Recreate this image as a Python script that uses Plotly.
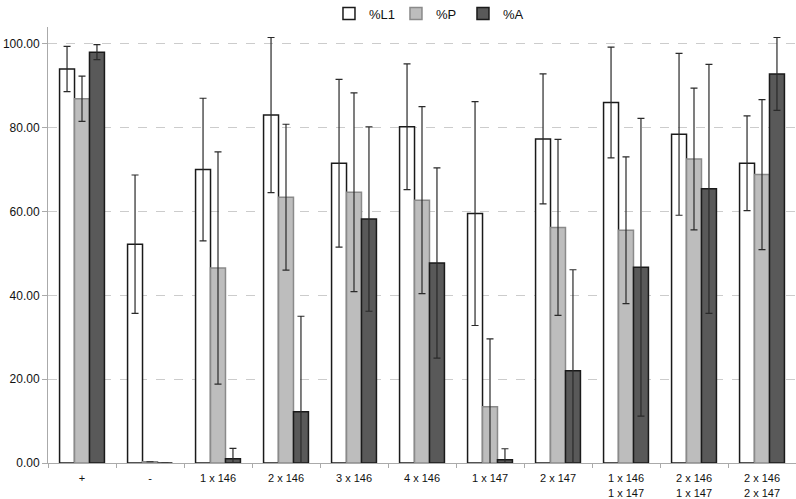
import plotly.graph_objects as go

categories = ["+", "-", "1 x 146", "2 x 146", "3 x 146", "4 x 146", "1 x 147",
              "2 x 147", "1 x 146<br>1 x 147", "2 x 146<br>1 x 147", "2 x 146<br>2 x 147"]

L1_values = [94.0, 52.2, 70.0, 83.0, 71.5, 80.2, 59.5, 77.3, 86.0, 78.4, 71.5]
L1_errors = [5.4, 16.5, 17.0, 18.5, 20.0, 15.0, 26.7, 15.5, 13.2, 19.3, 11.3]

P_values = [86.9, 0.3, 46.5, 63.4, 64.6, 62.7, 13.4, 56.2, 55.5, 72.5, 68.8]
P_errors = [5.4, None, 27.7, 17.4, 23.7, 22.3, 16.2, 21.0, 17.5, 16.9, 17.9]

A_values = [98.0, 0.0, 1.0, 12.2, 58.2, 47.7, 0.8, 22.0, 46.7, 65.4, 92.8]
A_errors = [1.8, None, 2.5, 22.8, 22.0, 22.7, 2.6, 24.1, 35.5, 29.7, 8.7]

series = [
    ("%L1", L1_values, L1_errors, "#ffffff", "#1a1a1a"),
    ("%P", P_values, P_errors, "#bdbdbd", "#8a8a8a"),
    ("%A", A_values, A_errors, "#595959", "#1a1a1a"),
]

fig = go.Figure()
for name, vals, errs, fill, line in series:
    fig.add_trace(go.Bar(
        name=name, x=categories, y=vals,
        marker=dict(color=fill, line=dict(color=line, width=1.5)),
        error_y=dict(type="data", array=errs, visible=True,
                     color="#2a2a2a", thickness=1.2, width=3.5),
    ))

fig.update_layout(
    width=796, height=499,
    margin=dict(l=48, r=0, t=27, b=36, autoexpand=False),
    paper_bgcolor="white", plot_bgcolor="white",
    barmode="group", bargap=0.34, bargroupgap=0,
    font=dict(family="Liberation Sans, Arial, sans-serif", size=12, color="#111"),
    legend=dict(orientation="h", x=0.51, xanchor="center", y=1.031, yanchor="middle",
                font=dict(size=13), itemwidth=30, traceorder="normal",
                entrywidth=22, entrywidthmode="pixels", bgcolor="rgba(0,0,0,0)"),
    showlegend=True,
)
fig.update_xaxes(
    type="category", tickson="boundaries", ticks="outside", ticklen=4,
    tickcolor="#aaaaaa", showline=True, linecolor="#aaaaaa", linewidth=1,
    showgrid=False, tickfont=dict(size=11), automargin=False,
    ticklabelstandoff=5,
)
fig.update_yaxes(
    range=[0, 104], tickvals=[0, 20, 40, 60, 80, 100], tickformat=".2f",
    ticks="outside", ticklen=5, tickcolor="#aaaaaa",
    showline=True, linecolor="#aaaaaa", linewidth=1,
    showgrid=True, gridcolor="#cccccc", griddash="dash", gridwidth=1,
    zeroline=False, tickfont=dict(size=12), automargin=False,
)

fig.write_html(
    "out.html",
    config={"displayModeBar": False},
    post_script="document.body.style.margin='0';document.body.style.padding='0';document.body.style.overflow='hidden';",
)
